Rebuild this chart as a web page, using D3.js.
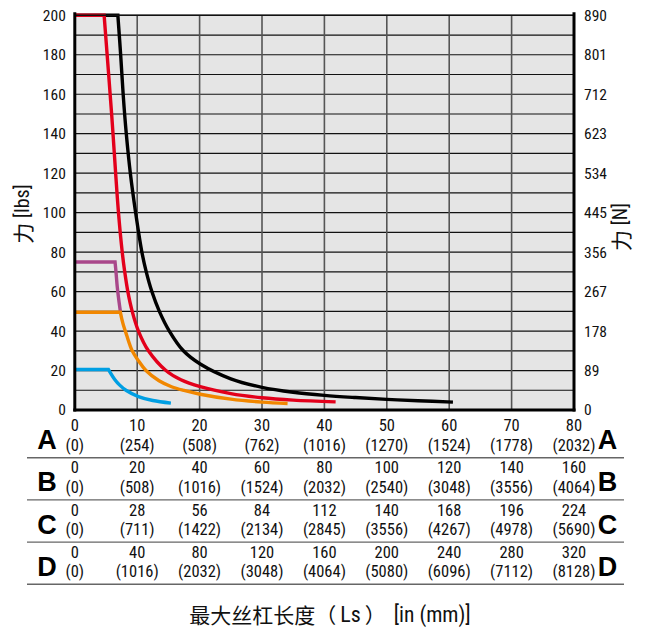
<!DOCTYPE html>
<html><head><meta charset="utf-8">
<script src="https://cdn.jsdelivr.net/npm/d3@7"></script>
<style>
body{margin:0;background:#fff;}
svg{display:block;}
</style></head>
<body>
<svg id="chart" width="648" height="628"></svg>
<script>
// ---------- data ----------
const lbsTicks = [0,20,40,60,80,100,120,140,160,180,200];
const newtonTicks = [0,89,178,267,356,445,534,623,712,801,890];
const rowLetters = ["A","B","C","D"];
const rowInches = [
  [0,10,20,30,40,50,60,70,80],
  [0,20,40,60,80,100,120,140,160],
  [0,28,56,84,112,140,168,196,224],
  [0,40,80,120,160,200,240,280,320]
];
const rowMm = [
  [0,254,508,762,1016,1270,1524,1778,2032],
  [0,508,1016,1524,2032,2540,3048,3556,4064],
  [0,711,1422,2134,2845,3556,4267,4978,5690],
  [0,1016,2032,3048,4064,5080,6096,7112,8128]
];
// curves: [length on A scale (in), force (lbs)]
const curveBlack  = [[0,200],[6.9,200],[7.35,180],[7.75,160],[8.25,140],[8.9,120],[9.75,100],[10.75,80],[11.45,70],[12.35,60],[13.55,50],[15.15,40],[17.4,30],[20.1,23.3],[25,15.8],[30,11.5],[35,9.0],[40,7.4],[45,6.3],[50,5.4],[55,4.7],[60.6,4.0]];
const curveRed    = [[0,200],[4.7,200],[5.9,150],[7.0,100],[7.6,80],[8.0,70],[8.5,60],[9.2,50],[10.2,40],[11.8,30],[14.6,20],[17,15.3],[20.1,11.8],[25,8.3],[30,6.2],[35,5.0],[41.8,4.1]];
const curvePurple = [[0,75],[6.45,75],[6.6,70],[6.8,62.5],[7.0,57],[7.3,50]];
const curveOrange = [[0,49.5],[7.3,49.5],[7.7,44],[8.3,38],[9.2,30],[10.2,25],[11.4,20],[13.5,14.8],[15.5,11.8],[17.5,9.9],[20.1,8.0],[25,5.5],[30,4.0],[34.1,3.3]];
const curveBlue   = [[0,20.5],[5.4,20.5],[6.4,15.5],[7.2,12.6],[8.2,10],[10.2,6.8],[12.5,4.8],[15.4,3.5]];
const seriesColors = {black:"#000000", red:"#e3001b", purple:"#a9478a", orange:"#f18700", blue:"#009fe3"};

// ---------- layout ----------
const svg = d3.select("#chart");
const narrow = "Roboto,sans-serif";
const cjk = "'Noto Sans CJK SC','Noto Sans',sans-serif";
const x = d3.scaleLinear().domain([0,80]).range([74.8,574]);
const y = d3.scaleLinear().domain([0,200]).range([410,15.3]);
const yN = d3.scaleLinear().domain([0,890]).range([410,15.3]);

function cond(sel){ return sel.attr("font-family",narrow).attr("font-stretch","condensed"); }

// background
svg.append("rect").attr("x",x(0)).attr("y",y(200)).attr("width",x(80)-x(0)).attr("height",y(0)-y(200)).attr("fill","#e5e5e5");

// grid
svg.append("g").selectAll("line").data(d3.range(10,201,10)).join("line")
  .attr("x1",x(0)).attr("x2",x(80)).attr("y1",d=>y(d)).attr("y2",d=>y(d))
  .attr("stroke","#111").attr("stroke-width",1.2);
svg.append("g").selectAll("line").data(d3.range(10,80,10)).join("line")
  .attr("x1",d=>x(d)).attr("x2",d=>x(d)).attr("y1",y(0)).attr("y2",y(200))
  .attr("stroke","#555").attr("stroke-width",1.6);

// curves
const lineLin = d3.line().x(d=>x(d[0])).y(d=>y(d[1]));
const lineSmooth = d3.line().x(d=>x(d[0])).y(d=>y(d[1])).curve(d3.curveCatmullRom.alpha(0.5));
function curvePath(data){
  const flat = lineLin(data.slice(0,2));
  const rest = lineSmooth(data.slice(1)).replace(/^M/,"L");
  return flat + rest;
}
const curves = [
  [curveBlack, seriesColors.black],
  [curveRed, seriesColors.red],
  [curvePurple, seriesColors.purple],
  [curveOrange, seriesColors.orange],
  [curveBlue, seriesColors.blue]
];
svg.append("g").selectAll("path").data(curves).join("path")
  .attr("d",d=>curvePath(d[0])).attr("fill","none")
  .attr("stroke",d=>d[1]).attr("stroke-width",3.4)
  .attr("stroke-linejoin","miter").attr("stroke-linecap","butt");

// frame
svg.append("line").attr("x1",x(0)).attr("x2",x(80)).attr("y1",y(200)).attr("y2",y(200)).attr("stroke","#111").attr("stroke-width",1.4);
svg.append("line").attr("x1",x(0)).attr("x2",x(0)).attr("y1",y(200)-3).attr("y2",y(0)+1.5).attr("stroke","#000").attr("stroke-width",3);
svg.append("line").attr("x1",x(80)).attr("x2",x(80)).attr("y1",y(200)-3).attr("y2",y(0)+1.5).attr("stroke","#000").attr("stroke-width",3);
svg.append("line").attr("x1",x(0)-1.5).attr("x2",x(80)+1.5).attr("y1",y(0)).attr("y2",y(0)).attr("stroke","#000").attr("stroke-width",3);

// left axis
const axL = svg.append("g").attr("transform",`translate(${x(0)},0)`)
  .call(d3.axisLeft(y).tickValues(lbsTicks).tickSize(0).tickPadding(9));
axL.select(".domain").remove();
cond(axL.selectAll("text")).attr("font-size",15.5).attr("fill","#111");

// right axis
const axR = svg.append("g").attr("transform",`translate(${x(80)},0)`)
  .call(d3.axisRight(yN).tickValues(newtonTicks).tickSize(0).tickPadding(10));
axR.select(".domain").remove();
cond(axR.selectAll("text")).attr("font-size",15.5).attr("fill","#111");

// axis titles
const tL = svg.append("text").attr("transform","translate(22,214) rotate(-90)")
  .attr("text-anchor","middle").attr("dominant-baseline","central").attr("fill","#111");
tL.append("tspan").attr("font-family",cjk).attr("font-size",21).text("力 ");
cond(tL.append("tspan")).attr("font-size",20).text("[lbs]");
const tR = svg.append("text").attr("transform","translate(620,227) rotate(-90)")
  .attr("text-anchor","middle").attr("dominant-baseline","central").attr("fill","#111");
tR.append("tspan").attr("font-family",cjk).attr("font-size",21).text("力 ");
cond(tR.append("tspan")).attr("font-size",20).text("[N]");

// table of length scales
const rowStep = 42.2, row0 = 425.7;
rowLetters.forEach((L,i)=>{
  const cy = row0 + i*rowStep;
  const g = svg.append("g");
  cond(g.selectAll("text.v").data(rowInches[i]).join("text").attr("class","v"))
    .attr("x",(d,j)=>x(j*10)).attr("y",cy).attr("text-anchor","middle").attr("dominant-baseline","central")
    .attr("font-size",16.5).attr("fill","#111").text(d=>d);
  cond(g.selectAll("text.m").data(rowMm[i]).join("text").attr("class","m"))
    .attr("x",(d,j)=>x(j*10)).attr("y",cy+19.6).attr("text-anchor","middle").attr("dominant-baseline","central")
    .attr("font-size",16.5).attr("fill","#111").text(d=>`(${d})`);
  [47,607.5].forEach(lx=>{
    g.append("text").attr("x",lx).attr("y",cy+14.5).attr("text-anchor","middle").attr("dominant-baseline","central")
      .attr("font-family","'Liberation Sans',Arial,sans-serif").attr("font-weight","bold").attr("font-size",27)
      .attr("fill","#000").text(L);
  });
  g.append("line").attr("x1",27).attr("x2",624).attr("y1",cy+32).attr("y2",cy+32)
    .attr("stroke","#666").attr("stroke-width",1.4);
});

// bottom title
const tB = svg.append("text").attr("x",330).attr("y",614).attr("text-anchor","middle")
  .attr("dominant-baseline","central").attr("fill","#111");
tB.append("tspan").attr("font-family",cjk).attr("font-size",21).text("最大丝杠长度（");
cond(tB.append("tspan")).attr("font-size",22).attr("dx",4).text("Ls");
tB.append("tspan").attr("font-family",cjk).attr("font-size",21).attr("dx",4).text("）");
cond(tB.append("tspan")).attr("font-size",21.5).attr("dx",8).text("[in (mm)]");
</script>
</body></html>
